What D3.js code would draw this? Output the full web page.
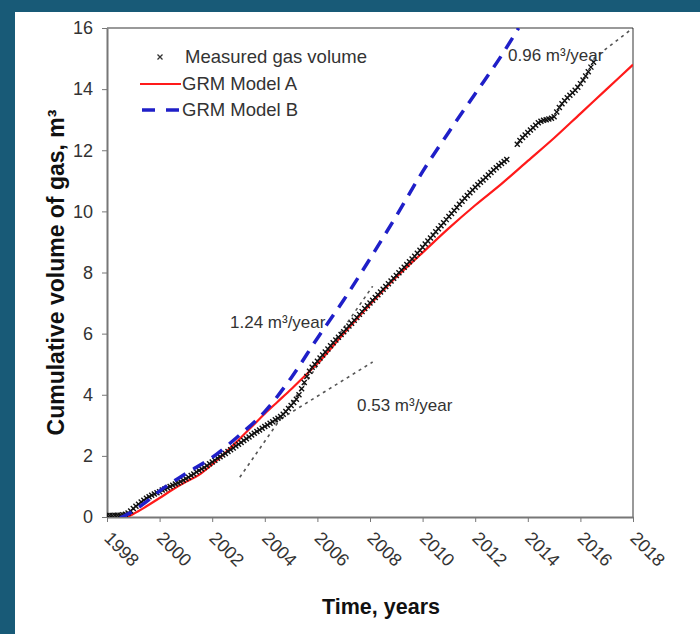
<!DOCTYPE html>
<html>
<head>
<meta charset="utf-8">
<script src="https://cdn.jsdelivr.net/npm/d3@7"></script>
<style>
  body { margin: 0; background: #185a77; }
  text { font-family: "Liberation Sans", Arial, sans-serif; }
</style>
</head>
<body>
<script>
// chart values
const measuredYears = [
  1998.0,1998.1,1998.2,1998.3,1998.4,1998.5,1998.6,1998.7,1998.8,1998.9,
  1999.0,1999.1,1999.2,1999.3,1999.4,1999.5,1999.6,1999.7,1999.8,1999.9,
  2000.0,2000.1,2000.2,2000.3,2000.4,2000.5,2000.6,2000.7,2000.8,2000.9,
  2001.0,2001.1,2001.2,2001.3,2001.4,2001.5,2001.6,2001.7,2001.8,2001.9,
  2002.0,2002.1,2002.2,2002.3,2002.4,2002.5,2002.6,2002.7,2002.8,2002.9,
  2003.0,2003.1,2003.2,2003.3,2003.4,2003.5,2003.6,2003.7,2003.8,2003.9,
  2004.0,2004.1,2004.2,2004.3,2004.4,2004.5,2004.6,2004.7,2004.8,2004.9,
  2005.0,2005.1,2005.2,2005.3,2005.4,2005.5,2005.6,2005.7,2005.8,2005.9,
  2006.0,2006.1,2006.2,2006.3,2006.4,2006.5,2006.6,2006.7,2006.8,2006.9,
  2007.0,2007.1,2007.2,2007.3,2007.4,2007.5,2007.6,2007.7,2007.8,2007.9,
  2008.0,2008.1,2008.2,2008.3,2008.4,2008.5,2008.6,2008.7,2008.8,2008.9,
  2009.0,2009.1,2009.2,2009.3,2009.4,2009.5,2009.6,2009.7,2009.8,2009.9,
  2010.0,2010.1,2010.2,2010.3,2010.4,2010.5,2010.6,2010.7,2010.8,2010.9,
  2011.0,2011.1,2011.2,2011.3,2011.4,2011.5,2011.6,2011.7,2011.8,2011.9,
  2012.0,2012.1,2012.2,2012.3,2012.4,2012.5,2012.6,2012.7,2012.8,2012.9,
  2013.0,2013.1,2013.2,2013.6,2013.7,2013.8,2013.9,
  2014.0,2014.1,2014.2,2014.3,2014.4,2014.5,2014.6,2014.7,2014.8,2014.9,
  2015.0,2015.1,2015.2,2015.3,2015.4,2015.5,2015.6,2015.7,2015.8,2015.9,
  2016.0,2016.1,2016.2,2016.3,2016.4,2016.5];
const measuredGas = [
  0.05,0.05,0.05,0.06,0.06,0.06,0.07,0.09,0.13,0.20,
  0.28,0.35,0.42,0.49,0.55,0.61,0.66,0.71,0.75,0.79,
  0.83,0.88,0.92,0.96,1.00,1.04,1.08,1.11,1.15,1.20,
  1.25,1.30,1.36,1.41,1.47,1.52,1.57,1.62,1.68,1.74,
  1.80,1.86,1.92,1.97,2.03,2.08,2.14,2.20,2.26,2.32,
  2.38,2.44,2.50,2.56,2.62,2.68,2.74,2.80,2.85,2.90,
  2.96,3.01,3.07,3.12,3.18,3.23,3.29,3.36,3.45,3.55,
  3.65,3.75,3.85,4.00,4.20,4.40,4.60,4.77,4.90,5.00,
  5.10,5.20,5.30,5.40,5.50,5.60,5.70,5.79,5.88,5.97,
  6.06,6.15,6.25,6.34,6.44,6.53,6.63,6.72,6.82,6.91,
  7.00,7.09,7.18,7.27,7.36,7.45,7.54,7.63,7.72,7.81,
  7.90,7.99,8.08,8.17,8.26,8.35,8.44,8.53,8.63,8.73,
  8.83,8.93,9.03,9.13,9.23,9.33,9.43,9.53,9.63,9.73,
  9.83,9.93,10.03,10.13,10.23,10.33,10.43,10.52,10.61,10.70,
  10.79,10.87,10.95,11.03,11.11,11.19,11.27,11.35,11.43,11.50,
  11.57,11.63,11.70,12.20,12.32,12.42,12.50,
  12.58,12.66,12.74,12.82,12.90,12.95,12.98,13.00,13.02,13.05,
  13.10,13.25,13.40,13.52,13.62,13.72,13.80,13.88,13.96,14.06,
  14.18,14.30,14.43,14.57,14.72,14.88];

const modelAYears = [1998.75,1999,1999.5,2000,2000.5,2001,2001.5,2002,2002.5,2003,2003.5,
  2004,2004.5,2005,2005.5,2006,2007,2008,2009,2010,2011,2012,2013,2014,2015,2016,2017,2018];
const modelA = [0,0.1,0.35,0.62,0.9,1.15,1.38,1.72,2.1,2.52,2.95,
  3.38,3.78,4.18,4.6,5.02,6.0,6.95,7.85,8.65,9.45,10.2,10.9,11.65,12.4,13.2,14.0,14.8];

const modelBYears = [1998.5,1999,1999.5,2000,2001,2002,2003,2004,2005,2006,2007,2008,
  2009,2010,2011,2012,2013,2013.65];
const modelB = [-0.03,0.2,0.5,0.85,1.42,1.95,2.65,3.45,4.55,5.85,7.1,8.45,
  9.85,11.3,12.6,13.85,15.1,16];

// tangent (rate) lines: [startYear, startValue, endYear, endValue]
const rateLabels = ["1.24 m³/year", "0.53 m³/year", "0.96 m³/year"];
const rateLines = [[2003.05, 1.3, 2008.1, 7.55], [2004.4, 3.1, 2008.1, 5.07], [2016.5, 15.0, 2018, 16.0]];

const xTicks = [1998,2000,2002,2004,2006,2008,2010,2012,2014,2016,2018];
const yTicks = [0,2,4,6,8,10,12,14,16];

const seriesNames = ["Measured gas volume", "GRM Model A", "GRM Model B"];

const width = 700, height = 634;
const margin = {top: 28, right: 67, bottom: 117, left: 107};

const svg = d3.select("body").append("svg")
  .attr("width", width).attr("height", height);

// white panel on the dark frame
svg.append("rect").attr("x", 15).attr("y", 12)
  .attr("width", width - 15).attr("height", height - 12).attr("fill", "#fff");

const x = d3.scaleLinear().domain([1998, 2018]).range([margin.left, width - margin.right]);
const y = d3.scaleLinear().domain([0, 16]).range([height - margin.bottom, margin.top]);

svg.append("clipPath").attr("id", "clip").append("rect")
  .attr("x", margin.left).attr("y", margin.top)
  .attr("width", x(2018) - x(1998)).attr("height", y(0) - y(16));

const axisColor = "#777";

// box top and right
svg.append("line").attr("x1", x(1998)).attr("x2", x(2018)).attr("y1", y(16)).attr("y2", y(16))
  .attr("stroke", axisColor).attr("stroke-width", 1.5);
svg.append("line").attr("x1", x(2018)).attr("x2", x(2018)).attr("y1", y(16)).attr("y2", y(0))
  .attr("stroke", axisColor).attr("stroke-width", 1.5);

// axes
const xAxis = svg.append("g").attr("transform", `translate(0,${y(0)})`)
  .call(d3.axisBottom(x).tickValues(xTicks).tickFormat(d3.format("d")).tickSize(5).tickSizeOuter(0));
xAxis.selectAll("text")
  .attr("font-size", 18).attr("fill", "#333")
  .attr("text-anchor", "start")
  .attr("dy", null).attr("y", null)
  .attr("transform", "translate(-1,19) rotate(45)")
  .attr("dominant-baseline", "middle");

const yAxis = svg.append("g").attr("transform", `translate(${x(1998)},0)`)
  .call(d3.axisLeft(y).tickValues(yTicks).tickSize(5).tickSizeOuter(0));
yAxis.selectAll("text").attr("font-size", 18).attr("fill", "#333").attr("x", -14);

[xAxis, yAxis].forEach(a => {
  a.select(".domain").attr("stroke", axisColor).attr("stroke-width", 2);
  a.selectAll(".tick line").attr("stroke", axisColor).attr("stroke-width", 1);
});

// axis titles
svg.append("text").attr("transform", `translate(58,${(y(0) + y(16)) / 2}) rotate(-90)`)
  .attr("text-anchor", "middle").attr("dominant-baseline", "middle")
  .attr("font-size", 23).attr("font-weight", "bold").attr("fill", "#111")
  .text("Cumulative volume of gas, m³");
svg.append("text").attr("x", 381).attr("y", 614)
  .attr("text-anchor", "middle").attr("font-size", 21.5).attr("font-weight", "bold").attr("fill", "#111")
  .text("Time, years");

const g = svg.append("g").attr("clip-path", "url(#clip)");

// tangent lines
g.selectAll(".rate").data(rateLines).enter().append("line")
  .attr("x1", d => x(d[0])).attr("y1", d => y(d[1]))
  .attr("x2", d => x(d[2])).attr("y2", d => y(d[3]))
  .attr("stroke", "#555").attr("stroke-width", 1.6).attr("stroke-dasharray", "3,4");

const line = d3.line().curve(d3.curveMonotoneX);

// model A
g.append("path")
  .attr("d", line(modelAYears.map((t, i) => [x(t), y(modelA[i])])))
  .attr("fill", "none").attr("stroke", "#ff1a1a").attr("stroke-width", 2.2);

// measured markers
const xMark = s => `M${-s},${-s}L${s},${s}M${-s},${s}L${s},${-s}`;
g.selectAll(".meas").data(measuredYears).enter().append("path")
  .attr("transform", (t, i) => `translate(${x(t)},${y(measuredGas[i])})`)
  .attr("d", xMark(2.5)).attr("stroke", "#111").attr("stroke-width", 1.4).attr("fill", "none");

// model B
g.append("path")
  .attr("d", line(modelBYears.map((t, i) => [x(t), y(modelB[i])])))
  .attr("fill", "none").attr("stroke", "#1f1fc8").attr("stroke-width", 3.5)
  .attr("stroke-dasharray", "13,9");

// rate labels
const labelPos = [[230, 328], [357, 411], [508, 61]];
svg.selectAll(".rl").data(rateLabels).enter().append("text")
  .attr("x", (d, i) => labelPos[i][0]).attr("y", (d, i) => labelPos[i][1])
  .attr("font-size", 17).attr("fill", "#333").text(d => d);

// legend
const leg = svg.append("g").attr("transform", "translate(140,57)");
leg.append("path").attr("transform", "translate(20,0)").attr("d", xMark(2.5))
  .attr("stroke", "#333").attr("stroke-width", 1.3);
leg.append("line").attr("x1", 0).attr("x2", 41).attr("y1", 27).attr("y2", 27)
  .attr("stroke", "#ff1a1a").attr("stroke-width", 2.2);
leg.append("line").attr("x1", 2).attr("x2", 40).attr("y1", 53).attr("y2", 53)
  .attr("stroke", "#1f1fc8").attr("stroke-width", 3.5).attr("stroke-dasharray", "13,11");
leg.selectAll("text").data(seriesNames).enter().append("text")
  .attr("x", d => d === seriesNames[0] ? 45 : 42).attr("y", (d, i) => i * 26.5 + 6)
  .attr("font-size", 18.5).attr("fill", "#333").text(d => d);
</script>
</body>
</html>
